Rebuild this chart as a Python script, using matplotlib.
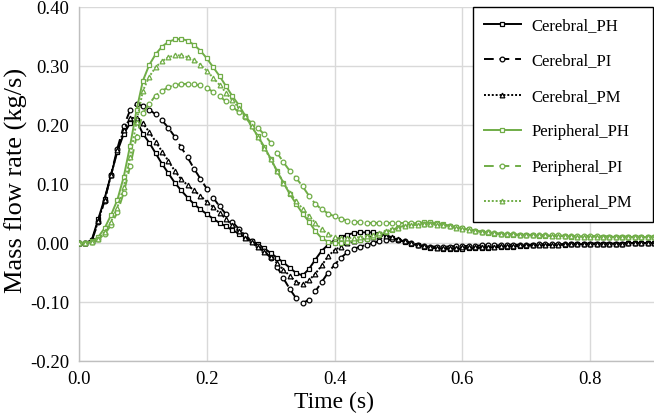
import numpy as np
import matplotlib
matplotlib.use("Agg")
import matplotlib.pyplot as plt

time_s = [round(0.01 * i, 2) for i in range(91)]

cerebral_ph = [
    0.000, 0.000, 0.005, 0.040, 0.075, 0.115, 0.155, 0.185, 0.203, 0.208,
    0.185, 0.170, 0.152, 0.134, 0.118, 0.102, 0.089, 0.077, 0.066, 0.057,
    0.049, 0.041, 0.034, 0.028, 0.022, 0.016, 0.010, 0.004, -0.002, -0.009,
    -0.017, -0.025, -0.033, -0.042, -0.051, -0.055, -0.044, -0.028, -0.013, -0.003,
    0.005, 0.010, 0.014, 0.017, 0.018, 0.018, 0.018, 0.016, 0.013, 0.009,
    0.005, 0.002, -0.001, -0.004, -0.006, -0.008, -0.009, -0.010, -0.010, -0.010,
    -0.010, -0.009, -0.009, -0.008, -0.008, -0.007, -0.007, -0.006, -0.006, -0.005,
    -0.005, -0.004, -0.004, -0.004, -0.003, -0.003, -0.003, -0.002, -0.002, -0.002,
    -0.002, -0.001, -0.001, -0.001, -0.001, -0.001, 0.000, 0.000, 0.000, 0.000,
    0.000,
]

cerebral_pi = [
    0.000, 0.000, 0.004, 0.035, 0.072, 0.115, 0.160, 0.198, 0.225, 0.235,
    0.232, 0.226, 0.218, 0.208, 0.195, 0.180, 0.162, 0.145, 0.126, 0.109,
    0.092, 0.077, 0.062, 0.049, 0.036, 0.024, 0.013, 0.004, -0.005, -0.014,
    -0.025, -0.040, -0.060, -0.078, -0.094, -0.102, -0.096, -0.082, -0.066, -0.050,
    -0.037, -0.025, -0.016, -0.010, -0.006, -0.003, 0.000, 0.003, 0.005, 0.006,
    0.005, 0.003, 0.000, -0.003, -0.005, -0.006, -0.006, -0.006, -0.006, -0.005,
    -0.005, -0.005, -0.005, -0.004, -0.004, -0.004, -0.004, -0.003, -0.003, -0.003,
    -0.003, -0.003, -0.002, -0.002, -0.002, -0.002, -0.002, -0.002, -0.001, -0.001,
    -0.001, -0.001, -0.001, -0.001, -0.001, -0.001, 0.000, 0.000, 0.000, 0.000,
    0.000,
]

cerebral_pm = [
    0.000, 0.000, 0.004, 0.037, 0.073, 0.115, 0.157, 0.192, 0.212, 0.212,
    0.203, 0.188, 0.172, 0.155, 0.139, 0.122, 0.108, 0.098, 0.089, 0.080,
    0.070, 0.061, 0.051, 0.041, 0.030, 0.020, 0.009, 0.001, -0.007, -0.015,
    -0.024, -0.034, -0.045, -0.056, -0.066, -0.070, -0.063, -0.052, -0.038, -0.022,
    -0.012, -0.006, 0.000, 0.003, 0.006, 0.009, 0.011, 0.012, 0.012, 0.010,
    0.006, 0.003, 0.000, -0.003, -0.005, -0.007, -0.008, -0.008, -0.008, -0.008,
    -0.007, -0.007, -0.007, -0.006, -0.006, -0.006, -0.005, -0.005, -0.005, -0.004,
    -0.004, -0.004, -0.003, -0.003, -0.003, -0.003, -0.002, -0.002, -0.002, -0.002,
    -0.001, -0.001, -0.001, -0.001, -0.001, -0.001, 0.000, 0.000, 0.000, 0.000,
    0.000,
]

peripheral_ph = [
    0.000, 0.000, 0.003, 0.010, 0.025, 0.047, 0.073, 0.112, 0.165, 0.225,
    0.275, 0.302, 0.320, 0.333, 0.341, 0.345, 0.346, 0.343, 0.336, 0.326,
    0.313, 0.298, 0.283, 0.266, 0.249, 0.234, 0.216, 0.198, 0.181, 0.163,
    0.143, 0.122, 0.102, 0.083, 0.066, 0.050, 0.036, 0.020, 0.008, 0.002,
    0.000, 0.000, 0.002, 0.003, 0.005, 0.007, 0.010, 0.014, 0.018, 0.022,
    0.026, 0.030, 0.033, 0.034, 0.035, 0.035, 0.034, 0.032, 0.029, 0.027,
    0.025, 0.023, 0.021, 0.019, 0.017, 0.016, 0.015, 0.014, 0.014, 0.013,
    0.013, 0.013, 0.012, 0.012, 0.012, 0.012, 0.012, 0.011, 0.011, 0.011,
    0.011, 0.011, 0.011, 0.011, 0.010, 0.010, 0.010, 0.010, 0.010, 0.010,
    0.010,
]

peripheral_pi = [
    0.000, 0.000, 0.002, 0.006, 0.015, 0.030, 0.052, 0.085, 0.130, 0.180,
    0.220, 0.236, 0.250, 0.258, 0.264, 0.268, 0.269, 0.270, 0.269, 0.267,
    0.263, 0.256, 0.249, 0.240, 0.231, 0.222, 0.213, 0.204, 0.195, 0.184,
    0.170, 0.153, 0.137, 0.122, 0.110, 0.096, 0.080, 0.066, 0.057, 0.050,
    0.045, 0.041, 0.038, 0.036, 0.035, 0.034, 0.034, 0.034, 0.034, 0.034,
    0.034, 0.034, 0.034, 0.034, 0.033, 0.033, 0.032, 0.031, 0.029, 0.027,
    0.025, 0.023, 0.021, 0.019, 0.018, 0.017, 0.016, 0.015, 0.015, 0.014,
    0.014, 0.014, 0.013, 0.013, 0.013, 0.013, 0.012, 0.012, 0.012, 0.012,
    0.012, 0.012, 0.011, 0.011, 0.011, 0.011, 0.011, 0.011, 0.011, 0.011,
    0.011,
]

peripheral_pm = [
    0.000, 0.000, 0.002, 0.007, 0.018, 0.036, 0.060, 0.095, 0.145, 0.205,
    0.258, 0.282, 0.298, 0.308, 0.315, 0.318, 0.318, 0.315, 0.310, 0.302,
    0.292, 0.280, 0.268, 0.255, 0.242, 0.229, 0.215, 0.199, 0.180, 0.161,
    0.142, 0.122, 0.102, 0.085, 0.071, 0.058, 0.046, 0.034, 0.023, 0.015,
    0.010, 0.008, 0.008, 0.009, 0.010, 0.012, 0.014, 0.017, 0.020, 0.023,
    0.026, 0.028, 0.030, 0.031, 0.032, 0.032, 0.031, 0.030, 0.028, 0.026,
    0.024, 0.022, 0.021, 0.019, 0.018, 0.017, 0.016, 0.015, 0.015, 0.014,
    0.014, 0.013, 0.013, 0.013, 0.012, 0.012, 0.012, 0.012, 0.011, 0.011,
    0.011, 0.011, 0.011, 0.011, 0.010, 0.010, 0.010, 0.010, 0.010, 0.010,
    0.010,
]

series_labels = ["Cerebral_PH", "Cerebral_PI", "Cerebral_PM",
                 "Peripheral_PH", "Peripheral_PI", "Peripheral_PM"]
x_ticks = [0.0, 0.2, 0.4, 0.6, 0.8]
y_ticks = [-0.20, -0.10, 0.00, 0.10, 0.20, 0.30, 0.40]

plt.rcParams['font.family'] = ['Liberation Serif', 'DejaVu Serif']

fig = plt.figure(figsize=(6.54, 4.19), dpi=100)
ax = fig.add_axes([79 / 654, 1 - 361 / 419, 575 / 654, 354 / 419])

black = "#000000"
green = "#70AD47"
styles = [
    (cerebral_ph, black, "-", "s"),
    (cerebral_pi, black, (0, (5, 3)), "o"),
    (cerebral_pm, black, (0, (1, 1)), "^"),
    (peripheral_ph, green, "-", "s"),
    (peripheral_pi, green, (0, (5, 3)), "o"),
    (peripheral_pm, green, (0, (1, 1)), "^"),
]
for (vals, col, ls, mk), lab in zip(styles, series_labels):
    ax.plot(time_s, vals, color=col, linestyle=ls, linewidth=1.4,
            marker=mk, markersize=3.4, markerfacecolor="white",
            markeredgecolor=col, markeredgewidth=0.9, label=lab, zorder=3)

ax.set_xlim(0, 0.9)
ax.set_ylim(-0.2, 0.4)
ax.set_xticks(x_ticks)
ax.set_xticklabels([f"{v:.1f}" for v in x_ticks])
ax.set_yticks(y_ticks)
ax.set_yticklabels([f"{v:.2f}" for v in y_ticks])
ax.tick_params(axis='both', length=0, labelsize=13.5)
ax.tick_params(axis='y', pad=7)
ax.tick_params(axis='x', pad=7)
ax.grid(True, color="#D9D9D9", linewidth=1.0, zorder=0)
ax.set_axisbelow(True)
for s in ["top", "right"]:
    ax.spines[s].set_visible(False)
for s in ["left", "bottom"]:
    ax.spines[s].set_color("#BFBFBF")
    ax.spines[s].set_linewidth(1.0)

ax.set_ylabel("Mass flow rate (kg/s)", fontsize=19)
ax.yaxis.set_label_coords((28 - 79) / 575, 0.51)
ax.set_xlabel("Time (s)", fontsize=17)
ax.xaxis.set_label_coords((334 - 79) / 575, (361 - 392) / 354)

leg = ax.legend(loc="upper left", bbox_to_anchor=(394 / 575, 140 / 354, 180 / 575, 214 / 354),
                mode="expand", borderaxespad=0,
                fontsize=12, frameon=True, fancybox=False, labelspacing=1.17,
                handlelength=2.2, handletextpad=0.65, borderpad=0.65,
                markerscale=1.0)
leg.get_frame().set_edgecolor("black")
leg.get_frame().set_linewidth(1.0)
leg.get_frame().set_alpha(1.0)

fig.savefig("out.png", dpi=100)
